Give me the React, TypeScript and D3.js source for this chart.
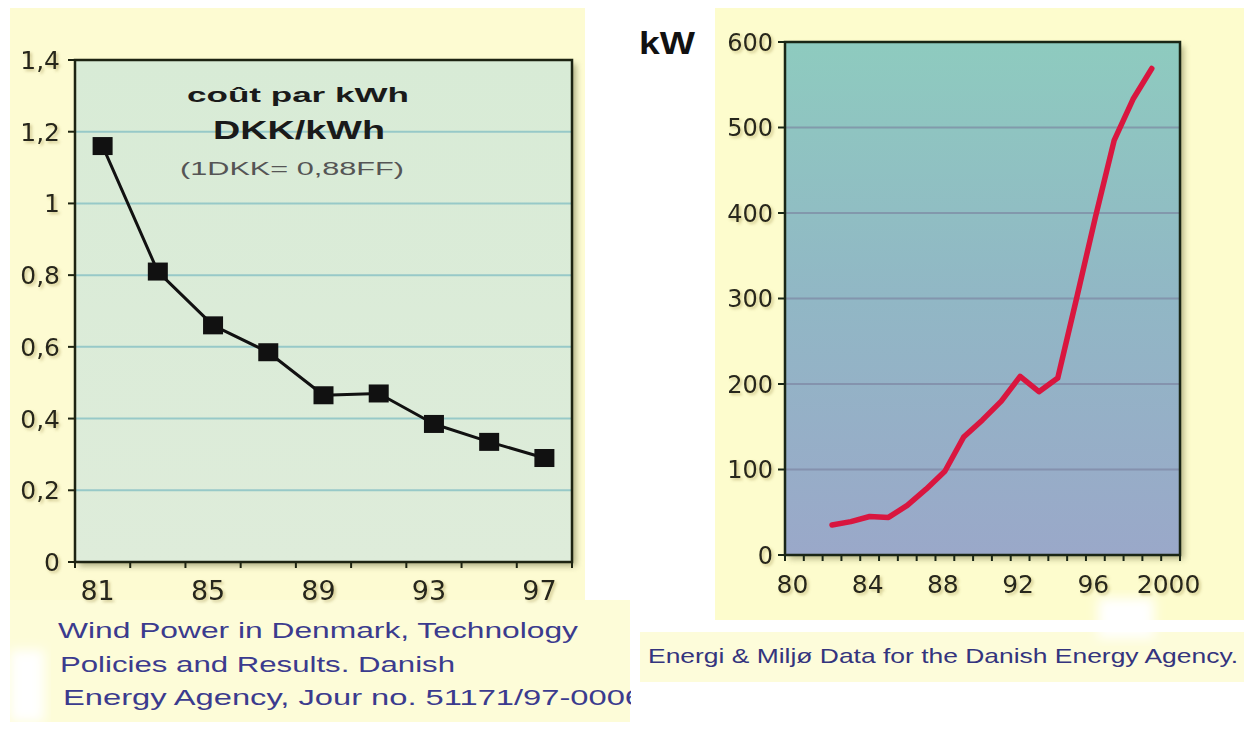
import React from 'react';
import * as d3 from 'd3';

// ---- Left chart: cost per kWh (DKK/kWh) ----
const costYears = ['81', '83', '85', '87', '89', '91', '93', '95', '97'];
const costValues = [1.16, 0.81, 0.66, 0.585, 0.465, 0.47, 0.385, 0.335, 0.29];
const costYTicks = [0, 0.2, 0.4, 0.6, 0.8, 1, 1.2, 1.4];
const costYTickText = ['0', '0,2', '0,4', '0,6', '0,8', '1', '1,2', '1,4'];
const costXLabels = ['81', '85', '89', '93', '97'];

// ---- Right chart: average turbine size (kW) ----
const sizeYears = [1982, 1983, 1984, 1985, 1986, 1987, 1988, 1989, 1990, 1991, 1992, 1993, 1994, 1995, 1996, 1997, 1998, 1999];
const sizeValues = [35, 39, 45, 44, 58, 77, 98, 138, 158, 180, 209, 191, 207, 300, 395, 485, 533, 569];
const sizeYTicks = [0, 100, 200, 300, 400, 500, 600];
const sizeXLabelYears = [1980, 1984, 1988, 1992, 1996, 2000];
const sizeXLabelText = ['80', '84', '88', '92', '96', '2000'];
const sizeTickBounds = [1979.5, 1980.5, 1981.5, 1982.5, 1983.5, 1984.5, 1985.5, 1986.5, 1987.5, 1988.5, 1989.5, 1990.5, 1991.5, 1992.5, 1993.5, 1994.5, 1995.5, 1996.5, 1997.5, 1998.5, 1999.5, 2000.5];

const W = 1244;
const H = 731;

const LP = { x0: 75, x1: 572, y0: 60, y1: 562 };
const RP = { x0: 785, x1: 1180, y0: 42, y1: 555 };

const labelFont = '"DejaVu Sans", Verdana, sans-serif';
const capFont = '"Liberation Sans", Arial, sans-serif';

export default function App() {
  const xL = d3.scaleBand<string>().domain(costYears).range([LP.x0, LP.x1]);
  const cx = (d: string) => (xL(d) as number) + xL.bandwidth() / 2;
  const yL = d3.scaleLinear().domain([0, 1.4]).range([LP.y1, LP.y0]);
  const costLine = d3
    .line<number>()
    .x((_, i) => cx(costYears[i]))
    .y((v) => yL(v))(costValues) as string;

  const xR = d3.scaleLinear().domain([1979.5, 2000.5]).range([RP.x0, RP.x1]);
  const yR = d3.scaleLinear().domain([0, 600]).range([RP.y1, RP.y0]);
  const sizeLine = d3
    .line<number>()
    .x((_, i) => xR(sizeYears[i]))
    .y((v) => yR(v))(sizeValues) as string;

  const bandBounds = [...costYears.map((d) => xL(d) as number), LP.x1];

  return (
    <svg
      width={W}
      height={H}
      style={{ position: 'absolute', left: 0, top: 0, display: 'block' }}
    >
      <defs>
        <filter id="shadow" x="-10%" y="-10%" width="130%" height="130%">
          <feGaussianBlur stdDeviation="3" />
        </filter>
        <filter id="soft" x="-20%" y="-20%" width="140%" height="140%">
          <feGaussianBlur stdDeviation="6" />
        </filter>
        <filter id="glow" x="-30%" y="-30%" width="160%" height="160%">
          <feGaussianBlur in="SourceAlpha" stdDeviation="1.6" result="b" />
          <feOffset in="b" dx="2" dy="2" result="o" />
          <feFlood floodColor="#9a8a40" floodOpacity="0.45" />
          <feComposite in2="o" operator="in" result="s" />
          <feMerge>
            <feMergeNode in="s" />
            <feMergeNode in="SourceGraphic" />
          </feMerge>
        </filter>
        <linearGradient id="rightBg" x1="0" y1="0" x2="0" y2="1">
          <stop offset="0%" stopColor="#8ecbbf" />
          <stop offset="50%" stopColor="#91b7c5" />
          <stop offset="100%" stopColor="#9aa8c9" />
        </linearGradient>
        <linearGradient id="leftBg" x1="0" y1="0" x2="0" y2="1">
          <stop offset="0%" stopColor="#d8ebd6" />
          <stop offset="100%" stopColor="#deecda" />
        </linearGradient>
        <clipPath id="capClip">
          <rect x={0} y={600} width={631} height={131} />
        </clipPath>
      </defs>

      <rect x={0} y={0} width={W} height={H} fill="#ffffff" />

      {/* left yellow background */}
      <rect x={10} y={8} width={575} height={600} fill="#fdfbd2" />
      <rect x={10} y={600} width={620} height={122} fill="#fdfcd8" />
      <rect x={10} y={650} width={34} height={72} fill="#ffffff" filter="url(#soft)" />

      {/* right yellow background */}
      <rect x={715} y={8} width={529} height={612} fill="#fdfccd" />
      <rect x={640} y={632} width={604} height={50} fill="#fdfcda" />
      <rect x={1098} y={598} width={56} height={40} fill="#ffffff" filter="url(#soft)" />

      {/* ================= LEFT CHART ================= */}
      <rect
        x={LP.x0 + 4}
        y={LP.y0 + 4}
        width={LP.x1 - LP.x0}
        height={LP.y1 - LP.y0}
        fill="#6e6e40"
        opacity={0.55}
        filter="url(#shadow)"
      />
      <rect x={LP.x0} y={LP.y0} width={LP.x1 - LP.x0} height={LP.y1 - LP.y0} fill="url(#leftBg)" />
      {costYTicks.slice(1, -1).map((t) => (
        <line key={'lg' + t} x1={LP.x0} x2={LP.x1} y1={yL(t)} y2={yL(t)} stroke="#97c9c8" strokeWidth={2} />
      ))}
      <rect
        x={LP.x0}
        y={LP.y0}
        width={LP.x1 - LP.x0}
        height={LP.y1 - LP.y0}
        fill="none"
        stroke="#1d2312"
        strokeWidth={2.5}
      />
      {costYTicks.map((t) => (
        <line key={'lt' + t} x1={LP.x0 - 7} x2={LP.x0} y1={yL(t)} y2={yL(t)} stroke="#1d2312" strokeWidth={2} />
      ))}
      {bandBounds.map((b, i) => (
        <line key={'lxt' + i} x1={b} x2={b} y1={LP.y1} y2={LP.y1 + 6} stroke="#1d2312" strokeWidth={2} />
      ))}
      {costYTicks.map((t, i) => (
        <text
          key={'lyl' + t}
          x={60}
          y={yL(t)}
          dy="0.36em"
          textAnchor="end"
          fontFamily={labelFont}
          fontSize={25}
          fill="#26261c"
          filter="url(#glow)"
        >
          {costYTickText[i]}
        </text>
      ))}
      {costXLabels.map((d) => (
        <text
          key={'lxl' + d}
          x={cx(d) - 5}
          y={600}
          textAnchor="middle"
          fontFamily={labelFont}
          fontSize={27}
          fill="#26261c"
          filter="url(#glow)"
        >
          {d}
        </text>
      ))}

      <text x={298} y={102} textAnchor="middle" fontFamily={capFont} fontWeight="bold" fontSize={21} fill="#1a1a1a" textLength={222} lengthAdjust="spacingAndGlyphs">
        coût par kWh
      </text>
      <text x={299} y={139} textAnchor="middle" fontFamily={capFont} fontWeight="bold" fontSize={25} fill="#1a1a1a" textLength={172} lengthAdjust="spacingAndGlyphs">
        DKK/kWh
      </text>
      <text x={292} y={175} textAnchor="middle" fontFamily={capFont} fontSize={18} fill="#555555" textLength={224} lengthAdjust="spacingAndGlyphs">
        (1DKK= 0,88FF)
      </text>

      <path d={costLine} fill="none" stroke="#111111" strokeWidth={3} strokeLinejoin="round" />
      {costValues.map((v, i) => (
        <rect key={'m' + i} x={cx(costYears[i]) - 10} y={yL(v) - 9} width={20} height={18} fill="#111111" />
      ))}

      <g clipPath="url(#capClip)" fontFamily={capFont} fontSize={22} fill="#3b3b8e">
        <text x={58} y={638} textLength={520} lengthAdjust="spacingAndGlyphs">
          Wind Power in Denmark, Technology
        </text>
        <text x={60} y={672} textLength={395} lengthAdjust="spacingAndGlyphs">
          Policies and Results. Danish
        </text>
        <text x={63} y={705} textLength={580} lengthAdjust="spacingAndGlyphs">
          Energy Agency, Jour no. 51171/97-0006
        </text>
      </g>

      {/* ================= RIGHT CHART ================= */}
      <text x={639} y={54} fontFamily={capFont} fontWeight="bold" fontSize={31} fill="#111111" textLength={56} lengthAdjust="spacingAndGlyphs">
        kW
      </text>

      <rect
        x={RP.x0 + 4}
        y={RP.y0 + 4}
        width={RP.x1 - RP.x0}
        height={RP.y1 - RP.y0}
        fill="#6e6e40"
        opacity={0.5}
        filter="url(#shadow)"
      />
      <rect x={RP.x0} y={RP.y0} width={RP.x1 - RP.x0} height={RP.y1 - RP.y0} fill="url(#rightBg)" />
      {sizeYTicks.slice(1, -1).map((t) => (
        <line key={'rg' + t} x1={RP.x0} x2={RP.x1} y1={yR(t)} y2={yR(t)} stroke="#7a7f9c" strokeOpacity={0.6} strokeWidth={2} />
      ))}
      <rect
        x={RP.x0}
        y={RP.y0}
        width={RP.x1 - RP.x0}
        height={RP.y1 - RP.y0}
        fill="none"
        stroke="#1a2616"
        strokeWidth={2.5}
      />
      {sizeYTicks.map((t) => (
        <line key={'rt' + t} x1={RP.x0 - 7} x2={RP.x0} y1={yR(t)} y2={yR(t)} stroke="#1a2616" strokeWidth={2} />
      ))}
      {sizeTickBounds.map((b) => (
        <line key={'rxt' + b} x1={xR(b)} x2={xR(b)} y1={RP.y1} y2={RP.y1 + 6} stroke="#1a2616" strokeWidth={2} />
      ))}
      {sizeYTicks.map((t) => (
        <text
          key={'ryl' + t}
          x={773}
          y={yR(t)}
          dy="0.36em"
          textAnchor="end"
          fontFamily={labelFont}
          fontSize={24}
          fill="#26261c"
          filter="url(#glow)"
        >
          {t}
        </text>
      ))}
      {sizeXLabelYears.map((yv, i) => (
        <text
          key={'rxl' + yv}
          x={xR(yv) - 2}
          y={593}
          textAnchor="middle"
          fontFamily={labelFont}
          fontSize={25}
          fill="#26261c"
          filter="url(#glow)"
        >
          {sizeXLabelText[i]}
        </text>
      ))}

      <path d={sizeLine} fill="none" stroke="#d9163f" strokeWidth={5.5} strokeLinejoin="round" strokeLinecap="round" />

      <text x={648} y={663} fontFamily={capFont} fontSize={21} fill="#34347e" textLength={590} lengthAdjust="spacingAndGlyphs">
        Energi &amp; Miljø Data for the Danish Energy Agency.
      </text>
    </svg>
  );
}
